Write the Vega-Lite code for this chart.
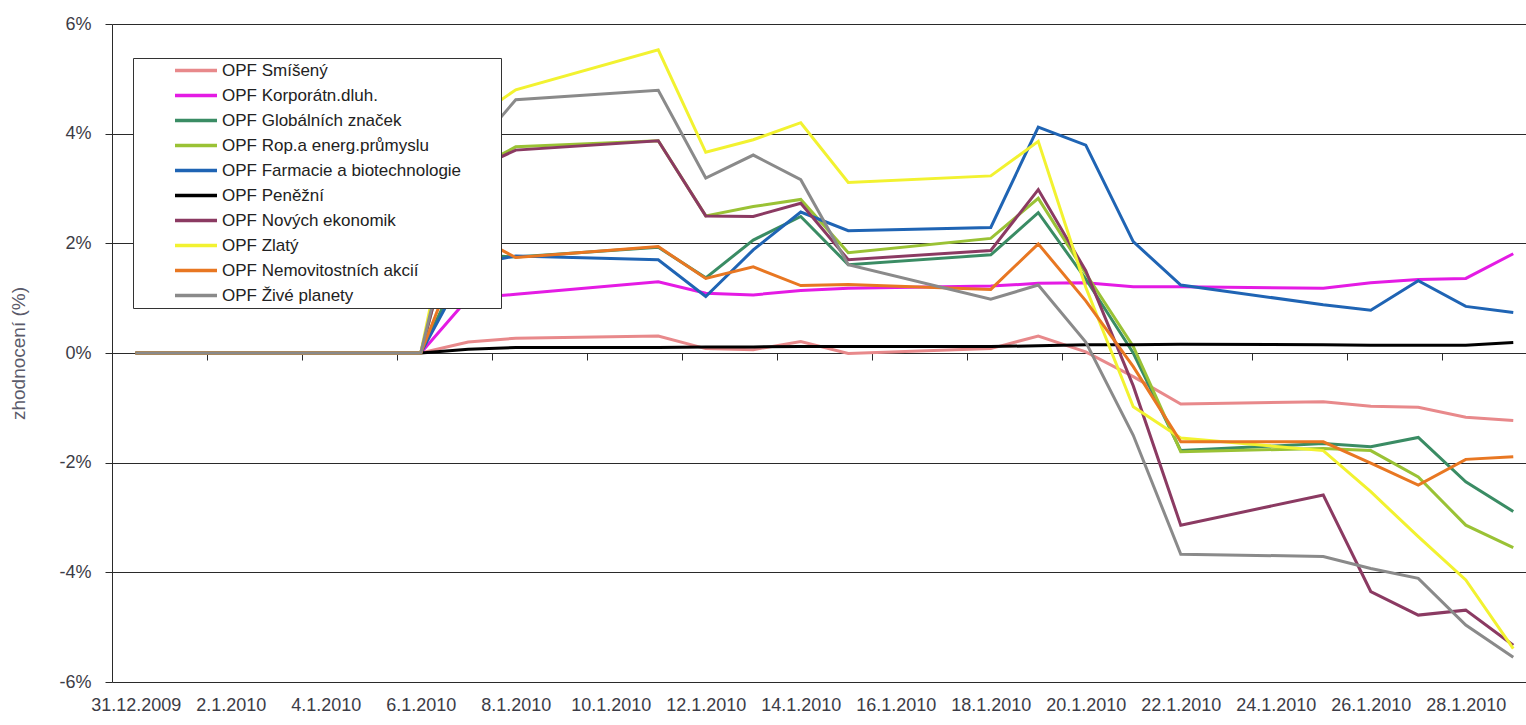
{
  "$schema": "https://vega.github.io/schema/vega-lite/v6.json",
  "width": 1414,
  "height": 658,
  "autosize": "none",
  "padding": {"left": 112, "top": 24, "right": 0, "bottom": 43},
  "background": "white",
  "config": {"view": {"stroke": null}, "font": "Liberation Sans"},
  "data": {"values": [
    {"d":"2009-12-31","f":"OPF Smíšený","v":0},{"d":"2010-01-04","f":"OPF Smíšený","v":0},{"d":"2010-01-05","f":"OPF Smíšený","v":0},{"d":"2010-01-06","f":"OPF Smíšený","v":0},{"d":"2010-01-07","f":"OPF Smíšený","v":0.20},{"d":"2010-01-08","f":"OPF Smíšený","v":0.27},{"d":"2010-01-11","f":"OPF Smíšený","v":0.31},{"d":"2010-01-12","f":"OPF Smíšený","v":0.08},{"d":"2010-01-13","f":"OPF Smíšený","v":0.06},{"d":"2010-01-14","f":"OPF Smíšený","v":0.21},{"d":"2010-01-15","f":"OPF Smíšený","v":-0.01},{"d":"2010-01-18","f":"OPF Smíšený","v":0.08},{"d":"2010-01-19","f":"OPF Smíšený","v":0.31},{"d":"2010-01-20","f":"OPF Smíšený","v":0.02},{"d":"2010-01-21","f":"OPF Smíšený","v":-0.43},{"d":"2010-01-22","f":"OPF Smíšený","v":-0.93},{"d":"2010-01-25","f":"OPF Smíšený","v":-0.89},{"d":"2010-01-26","f":"OPF Smíšený","v":-0.97},{"d":"2010-01-27","f":"OPF Smíšený","v":-0.99},{"d":"2010-01-28","f":"OPF Smíšený","v":-1.17},{"d":"2010-01-29","f":"OPF Smíšený","v":-1.23},
    {"d":"2009-12-31","f":"OPF Korporátn.dluh.","v":0},{"d":"2010-01-04","f":"OPF Korporátn.dluh.","v":0},{"d":"2010-01-05","f":"OPF Korporátn.dluh.","v":0},{"d":"2010-01-06","f":"OPF Korporátn.dluh.","v":0},{"d":"2010-01-07","f":"OPF Korporátn.dluh.","v":1.00},{"d":"2010-01-08","f":"OPF Korporátn.dluh.","v":1.07},{"d":"2010-01-11","f":"OPF Korporátn.dluh.","v":1.30},{"d":"2010-01-12","f":"OPF Korporátn.dluh.","v":1.09},{"d":"2010-01-13","f":"OPF Korporátn.dluh.","v":1.06},{"d":"2010-01-14","f":"OPF Korporátn.dluh.","v":1.14},{"d":"2010-01-15","f":"OPF Korporátn.dluh.","v":1.18},{"d":"2010-01-18","f":"OPF Korporátn.dluh.","v":1.22},{"d":"2010-01-19","f":"OPF Korporátn.dluh.","v":1.27},{"d":"2010-01-20","f":"OPF Korporátn.dluh.","v":1.28},{"d":"2010-01-21","f":"OPF Korporátn.dluh.","v":1.21},{"d":"2010-01-22","f":"OPF Korporátn.dluh.","v":1.21},{"d":"2010-01-25","f":"OPF Korporátn.dluh.","v":1.18},{"d":"2010-01-26","f":"OPF Korporátn.dluh.","v":1.28},{"d":"2010-01-27","f":"OPF Korporátn.dluh.","v":1.34},{"d":"2010-01-28","f":"OPF Korporátn.dluh.","v":1.36},{"d":"2010-01-29","f":"OPF Korporátn.dluh.","v":1.81},
    {"d":"2009-12-31","f":"OPF Globálních značek","v":0},{"d":"2010-01-04","f":"OPF Globálních značek","v":0},{"d":"2010-01-05","f":"OPF Globálních značek","v":0},{"d":"2010-01-06","f":"OPF Globálních značek","v":0},{"d":"2010-01-07","f":"OPF Globálních značek","v":1.80},{"d":"2010-01-08","f":"OPF Globálních značek","v":1.75},{"d":"2010-01-11","f":"OPF Globálních značek","v":1.93},{"d":"2010-01-12","f":"OPF Globálních značek","v":1.37},{"d":"2010-01-13","f":"OPF Globálních značek","v":2.06},{"d":"2010-01-14","f":"OPF Globálních značek","v":2.49},{"d":"2010-01-15","f":"OPF Globálních značek","v":1.61},{"d":"2010-01-18","f":"OPF Globálních značek","v":1.79},{"d":"2010-01-19","f":"OPF Globálních značek","v":2.56},{"d":"2010-01-20","f":"OPF Globálních značek","v":1.35},{"d":"2010-01-21","f":"OPF Globálních značek","v":0.00},{"d":"2010-01-22","f":"OPF Globálních značek","v":-1.78},{"d":"2010-01-25","f":"OPF Globálních značek","v":-1.65},{"d":"2010-01-26","f":"OPF Globálních značek","v":-1.71},{"d":"2010-01-27","f":"OPF Globálních značek","v":-1.54},{"d":"2010-01-28","f":"OPF Globálních značek","v":-2.35},{"d":"2010-01-29","f":"OPF Globálních značek","v":-2.89},
    {"d":"2009-12-31","f":"OPF Rop.a energ.průmyslu","v":0},{"d":"2010-01-04","f":"OPF Rop.a energ.průmyslu","v":0},{"d":"2010-01-05","f":"OPF Rop.a energ.průmyslu","v":0},{"d":"2010-01-06","f":"OPF Rop.a energ.průmyslu","v":0},{"d":"2010-01-07","f":"OPF Rop.a energ.průmyslu","v":3.30},{"d":"2010-01-08","f":"OPF Rop.a energ.průmyslu","v":3.76},{"d":"2010-01-11","f":"OPF Rop.a energ.průmyslu","v":3.87},{"d":"2010-01-12","f":"OPF Rop.a energ.průmyslu","v":2.50},{"d":"2010-01-13","f":"OPF Rop.a energ.průmyslu","v":2.67},{"d":"2010-01-14","f":"OPF Rop.a energ.průmyslu","v":2.80},{"d":"2010-01-15","f":"OPF Rop.a energ.průmyslu","v":1.83},{"d":"2010-01-18","f":"OPF Rop.a energ.průmyslu","v":2.09},{"d":"2010-01-19","f":"OPF Rop.a energ.průmyslu","v":2.82},{"d":"2010-01-20","f":"OPF Rop.a energ.průmyslu","v":1.45},{"d":"2010-01-21","f":"OPF Rop.a energ.průmyslu","v":0.12},{"d":"2010-01-22","f":"OPF Rop.a energ.průmyslu","v":-1.80},{"d":"2010-01-25","f":"OPF Rop.a energ.průmyslu","v":-1.74},{"d":"2010-01-26","f":"OPF Rop.a energ.průmyslu","v":-1.78},{"d":"2010-01-27","f":"OPF Rop.a energ.průmyslu","v":-2.26},{"d":"2010-01-28","f":"OPF Rop.a energ.průmyslu","v":-3.14},{"d":"2010-01-29","f":"OPF Rop.a energ.průmyslu","v":-3.55},
    {"d":"2009-12-31","f":"OPF Farmacie a biotechnologie","v":0},{"d":"2010-01-04","f":"OPF Farmacie a biotechnologie","v":0},{"d":"2010-01-05","f":"OPF Farmacie a biotechnologie","v":0},{"d":"2010-01-06","f":"OPF Farmacie a biotechnologie","v":0},{"d":"2010-01-07","f":"OPF Farmacie a biotechnologie","v":1.60},{"d":"2010-01-08","f":"OPF Farmacie a biotechnologie","v":1.77},{"d":"2010-01-11","f":"OPF Farmacie a biotechnologie","v":1.70},{"d":"2010-01-12","f":"OPF Farmacie a biotechnologie","v":1.03},{"d":"2010-01-13","f":"OPF Farmacie a biotechnologie","v":1.88},{"d":"2010-01-14","f":"OPF Farmacie a biotechnologie","v":2.57},{"d":"2010-01-15","f":"OPF Farmacie a biotechnologie","v":2.23},{"d":"2010-01-18","f":"OPF Farmacie a biotechnologie","v":2.29},{"d":"2010-01-19","f":"OPF Farmacie a biotechnologie","v":4.12},{"d":"2010-01-20","f":"OPF Farmacie a biotechnologie","v":3.79},{"d":"2010-01-21","f":"OPF Farmacie a biotechnologie","v":2.03},{"d":"2010-01-22","f":"OPF Farmacie a biotechnologie","v":1.24},{"d":"2010-01-25","f":"OPF Farmacie a biotechnologie","v":0.88},{"d":"2010-01-26","f":"OPF Farmacie a biotechnologie","v":0.78},{"d":"2010-01-27","f":"OPF Farmacie a biotechnologie","v":1.32},{"d":"2010-01-28","f":"OPF Farmacie a biotechnologie","v":0.85},{"d":"2010-01-29","f":"OPF Farmacie a biotechnologie","v":0.74},
    {"d":"2009-12-31","f":"OPF Peněžní","v":0},{"d":"2010-01-04","f":"OPF Peněžní","v":0},{"d":"2010-01-05","f":"OPF Peněžní","v":0},{"d":"2010-01-06","f":"OPF Peněžní","v":0},{"d":"2010-01-07","f":"OPF Peněžní","v":0.07},{"d":"2010-01-08","f":"OPF Peněžní","v":0.10},{"d":"2010-01-11","f":"OPF Peněžní","v":0.10},{"d":"2010-01-12","f":"OPF Peněžní","v":0.11},{"d":"2010-01-13","f":"OPF Peněžní","v":0.11},{"d":"2010-01-14","f":"OPF Peněžní","v":0.12},{"d":"2010-01-15","f":"OPF Peněžní","v":0.12},{"d":"2010-01-18","f":"OPF Peněžní","v":0.12},{"d":"2010-01-19","f":"OPF Peněžní","v":0.13},{"d":"2010-01-20","f":"OPF Peněžní","v":0.15},{"d":"2010-01-21","f":"OPF Peněžní","v":0.15},{"d":"2010-01-22","f":"OPF Peněžní","v":0.16},{"d":"2010-01-25","f":"OPF Peněžní","v":0.15},{"d":"2010-01-26","f":"OPF Peněžní","v":0.14},{"d":"2010-01-27","f":"OPF Peněžní","v":0.14},{"d":"2010-01-28","f":"OPF Peněžní","v":0.14},{"d":"2010-01-29","f":"OPF Peněžní","v":0.19},
    {"d":"2009-12-31","f":"OPF Nových ekonomik","v":0},{"d":"2010-01-04","f":"OPF Nových ekonomik","v":0},{"d":"2010-01-05","f":"OPF Nových ekonomik","v":0},{"d":"2010-01-06","f":"OPF Nových ekonomik","v":0},{"d":"2010-01-07","f":"OPF Nových ekonomik","v":3.30},{"d":"2010-01-08","f":"OPF Nových ekonomik","v":3.70},{"d":"2010-01-11","f":"OPF Nových ekonomik","v":3.87},{"d":"2010-01-12","f":"OPF Nových ekonomik","v":2.50},{"d":"2010-01-13","f":"OPF Nových ekonomik","v":2.49},{"d":"2010-01-14","f":"OPF Nových ekonomik","v":2.73},{"d":"2010-01-15","f":"OPF Nových ekonomik","v":1.70},{"d":"2010-01-18","f":"OPF Nových ekonomik","v":1.87},{"d":"2010-01-19","f":"OPF Nových ekonomik","v":2.98},{"d":"2010-01-20","f":"OPF Nových ekonomik","v":1.50},{"d":"2010-01-21","f":"OPF Nových ekonomik","v":-0.60},{"d":"2010-01-22","f":"OPF Nových ekonomik","v":-3.14},{"d":"2010-01-25","f":"OPF Nových ekonomik","v":-2.59},{"d":"2010-01-26","f":"OPF Nových ekonomik","v":-4.35},{"d":"2010-01-27","f":"OPF Nových ekonomik","v":-4.78},{"d":"2010-01-28","f":"OPF Nových ekonomik","v":-4.69},{"d":"2010-01-29","f":"OPF Nových ekonomik","v":-5.33},
    {"d":"2009-12-31","f":"OPF Zlatý","v":0},{"d":"2010-01-04","f":"OPF Zlatý","v":0},{"d":"2010-01-05","f":"OPF Zlatý","v":0},{"d":"2010-01-06","f":"OPF Zlatý","v":0},{"d":"2010-01-07","f":"OPF Zlatý","v":4.20},{"d":"2010-01-08","f":"OPF Zlatý","v":4.80},{"d":"2010-01-11","f":"OPF Zlatý","v":5.53},{"d":"2010-01-12","f":"OPF Zlatý","v":3.66},{"d":"2010-01-13","f":"OPF Zlatý","v":3.89},{"d":"2010-01-14","f":"OPF Zlatý","v":4.20},{"d":"2010-01-15","f":"OPF Zlatý","v":3.11},{"d":"2010-01-18","f":"OPF Zlatý","v":3.23},{"d":"2010-01-19","f":"OPF Zlatý","v":3.86},{"d":"2010-01-20","f":"OPF Zlatý","v":1.20},{"d":"2010-01-21","f":"OPF Zlatý","v":-0.98},{"d":"2010-01-22","f":"OPF Zlatý","v":-1.55},{"d":"2010-01-25","f":"OPF Zlatý","v":-1.78},{"d":"2010-01-26","f":"OPF Zlatý","v":-2.53},{"d":"2010-01-27","f":"OPF Zlatý","v":-3.35},{"d":"2010-01-28","f":"OPF Zlatý","v":-4.14},{"d":"2010-01-29","f":"OPF Zlatý","v":-5.39},
    {"d":"2009-12-31","f":"OPF Nemovitostních akcií","v":0},{"d":"2010-01-04","f":"OPF Nemovitostních akcií","v":0},{"d":"2010-01-05","f":"OPF Nemovitostních akcií","v":0},{"d":"2010-01-06","f":"OPF Nemovitostních akcií","v":0},{"d":"2010-01-07","f":"OPF Nemovitostních akcií","v":2.20},{"d":"2010-01-08","f":"OPF Nemovitostních akcií","v":1.74},{"d":"2010-01-11","f":"OPF Nemovitostních akcií","v":1.94},{"d":"2010-01-12","f":"OPF Nemovitostních akcií","v":1.36},{"d":"2010-01-13","f":"OPF Nemovitostních akcií","v":1.57},{"d":"2010-01-14","f":"OPF Nemovitostních akcií","v":1.23},{"d":"2010-01-15","f":"OPF Nemovitostních akcií","v":1.25},{"d":"2010-01-18","f":"OPF Nemovitostních akcií","v":1.16},{"d":"2010-01-19","f":"OPF Nemovitostních akcií","v":1.99},{"d":"2010-01-20","f":"OPF Nemovitostních akcií","v":0.95},{"d":"2010-01-21","f":"OPF Nemovitostních akcií","v":-0.25},{"d":"2010-01-22","f":"OPF Nemovitostních akcií","v":-1.62},{"d":"2010-01-25","f":"OPF Nemovitostních akcií","v":-1.62},{"d":"2010-01-26","f":"OPF Nemovitostních akcií","v":-2.01},{"d":"2010-01-27","f":"OPF Nemovitostních akcií","v":-2.41},{"d":"2010-01-28","f":"OPF Nemovitostních akcií","v":-1.94},{"d":"2010-01-29","f":"OPF Nemovitostních akcií","v":-1.89},
    {"d":"2009-12-31","f":"OPF Živé planety","v":0},{"d":"2010-01-04","f":"OPF Živé planety","v":0},{"d":"2010-01-05","f":"OPF Živé planety","v":0},{"d":"2010-01-06","f":"OPF Živé planety","v":0},{"d":"2010-01-07","f":"OPF Živé planety","v":3.60},{"d":"2010-01-08","f":"OPF Živé planety","v":4.62},{"d":"2010-01-11","f":"OPF Živé planety","v":4.79},{"d":"2010-01-12","f":"OPF Živé planety","v":3.19},{"d":"2010-01-13","f":"OPF Živé planety","v":3.61},{"d":"2010-01-14","f":"OPF Živé planety","v":3.16},{"d":"2010-01-15","f":"OPF Živé planety","v":1.61},{"d":"2010-01-18","f":"OPF Živé planety","v":0.98},{"d":"2010-01-19","f":"OPF Živé planety","v":1.24},{"d":"2010-01-20","f":"OPF Živé planety","v":0.20},{"d":"2010-01-21","f":"OPF Živé planety","v":-1.50},{"d":"2010-01-22","f":"OPF Živé planety","v":-3.67},{"d":"2010-01-25","f":"OPF Živé planety","v":-3.71},{"d":"2010-01-26","f":"OPF Živé planety","v":-3.93},{"d":"2010-01-27","f":"OPF Živé planety","v":-4.11},{"d":"2010-01-28","f":"OPF Živé planety","v":-4.96},{"d":"2010-01-29","f":"OPF Živé planety","v":-5.55}
  ]},
  "layer": [
    {
      "mark": {"type": "line", "strokeWidth": 3},
      "encoding": {
        "x": {
          "field": "d", "type": "temporal",
          "scale": {"type": "utc", "nice": false, "domain": [
            {"year": 2009, "month": 12, "date": 30, "hours": 12, "utc": true},
            {"year": 2010, "month": 1, "date": 29, "hours": 6, "minutes": 26, "utc": true}
          ]},
          "axis": {
            "orient": "bottom",
            "values": [
              {"year": 2009, "month": 12, "date": 31, "utc": true},
              {"year": 2010, "month": 1, "date": 2, "utc": true},
              {"year": 2010, "month": 1, "date": 4, "utc": true},
              {"year": 2010, "month": 1, "date": 6, "utc": true},
              {"year": 2010, "month": 1, "date": 8, "utc": true},
              {"year": 2010, "month": 1, "date": 10, "utc": true},
              {"year": 2010, "month": 1, "date": 12, "utc": true},
              {"year": 2010, "month": 1, "date": 14, "utc": true},
              {"year": 2010, "month": 1, "date": 16, "utc": true},
              {"year": 2010, "month": 1, "date": 18, "utc": true},
              {"year": 2010, "month": 1, "date": 20, "utc": true},
              {"year": 2010, "month": 1, "date": 22, "utc": true},
              {"year": 2010, "month": 1, "date": 24, "utc": true},
              {"year": 2010, "month": 1, "date": 26, "utc": true},
              {"year": 2010, "month": 1, "date": 28, "utc": true}
            ],
            "labelExpr": "utcFormat(datum.value, '%-d.%-m.%Y')",
            "labelOverlap": false,
            "labelFlush": false,
            "labelBound": false,
            "labelFont": "Liberation Sans",
            "labelFontSize": 18,
            "labelColor": "#3c3c46",
            "labelPadding": 14,
            "ticks": false,
            "tickSize": 0,
            "domain": false,
            "grid": false,
            "title": null
          }
        },
        "y": {
          "field": "v", "type": "quantitative",
          "scale": {"domain": [-6, 6], "nice": false, "zero": false},
          "axis": {
            "values": [-6, -4, -2, 0, 2, 4, 6],
            "labelExpr": "datum.value + '%'",
            "labelFont": "Liberation Sans",
            "labelFontSize": 18,
            "labelColor": "#3c3c46",
            "labelPadding": 14,
            "grid": true,
            "gridColor": "#2a2a2a",
            "gridWidth": 1,
            "domain": true,
            "domainColor": "#2a2a2a",
            "tickColor": "#2a2a2a",
            "tickSize": 7,
            "title": "zhodnocení (%)",
            "titleFont": "Liberation Sans",
            "titleFontSize": 19,
            "titleFontWeight": "normal",
            "titleColor": "#5a5a6a",
            "titleAngle": -90,
            "titleAlign": "center",
            "titleBaseline": "bottom",
            "titleX": -84,
            "titleY": 329
          }
        },
        "color": {
          "field": "f", "type": "nominal",
          "scale": {
            "domain": ["OPF Smíšený", "OPF Korporátn.dluh.", "OPF Globálních značek", "OPF Rop.a energ.průmyslu", "OPF Farmacie a biotechnologie", "OPF Peněžní", "OPF Nových ekonomik", "OPF Zlatý", "OPF Nemovitostních akcií", "OPF Živé planety"],
            "range": ["#E8898B", "#E41BE4", "#3A8C64", "#9AC235", "#1F64B4", "#000000", "#8B3A62", "#F2F230", "#E87722", "#8A8A8A"]
          },
          "legend": {
            "orient": "none",
            "legendX": 21,
            "legendY": 34,
            "direction": "vertical",
            "title": " ",
            "titleOrient": "right",
            "titlePadding": 40,
            "titleFontSize": 1,
            "padding": 0,
            "fillColor": "white",
            "strokeColor": "#333333",
            "symbolType": "stroke",
            "symbolSize": 1764,
            "symbolStrokeWidth": 3.5,
            "symbolOffset": 40,
            "labelOffset": 3,
            "clipHeight": 25,
            "rowPadding": 0,
            "labelFont": "Liberation Sans",
            "labelFontSize": 17,
            "labelColor": "#222222",
            "labelLimit": 400
          }
        }
      }
    },
    {
      "mark": {"type": "point", "opacity": 0},
      "encoding": {
        "x": {
          "field": "d", "type": "temporal",
          "axis": {
            "orient": "bottom",
            "offset": -329,
            "values": [
              {"year": 2009, "month": 12, "date": 30, "hours": 12, "utc": true},
              {"year": 2010, "month": 1, "date": 1, "hours": 12, "utc": true},
              {"year": 2010, "month": 1, "date": 3, "hours": 12, "utc": true},
              {"year": 2010, "month": 1, "date": 5, "hours": 12, "utc": true},
              {"year": 2010, "month": 1, "date": 7, "hours": 12, "utc": true},
              {"year": 2010, "month": 1, "date": 9, "hours": 12, "utc": true},
              {"year": 2010, "month": 1, "date": 11, "hours": 12, "utc": true},
              {"year": 2010, "month": 1, "date": 13, "hours": 12, "utc": true},
              {"year": 2010, "month": 1, "date": 15, "hours": 12, "utc": true},
              {"year": 2010, "month": 1, "date": 17, "hours": 12, "utc": true},
              {"year": 2010, "month": 1, "date": 19, "hours": 12, "utc": true},
              {"year": 2010, "month": 1, "date": 21, "hours": 12, "utc": true},
              {"year": 2010, "month": 1, "date": 23, "hours": 12, "utc": true},
              {"year": 2010, "month": 1, "date": 25, "hours": 12, "utc": true},
              {"year": 2010, "month": 1, "date": 27, "hours": 12, "utc": true}
            ],
            "labels": false,
            "ticks": true,
            "tickSize": 7,
            "tickColor": "#2a2a2a",
            "domain": false,
            "grid": false,
            "title": null
          }
        }
      }
    }
  ],
  "resolve": {"axis": {"x": "independent"}}
}
